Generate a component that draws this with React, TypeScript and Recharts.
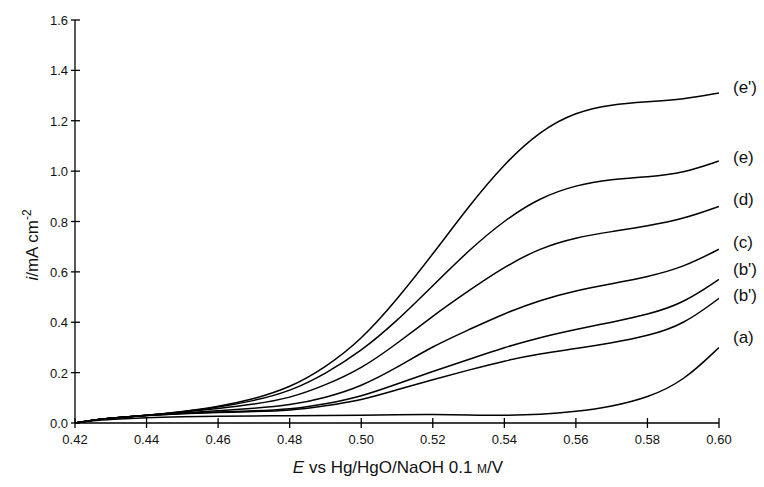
import React from "react";
import { LineChart, Line, XAxis, YAxis, LabelList } from "recharts";

const potential = [0.42, 0.425, 0.43, 0.44, 0.45, 0.46, 0.47, 0.48, 0.49, 0.5, 0.51, 0.52, 0.53, 0.54, 0.55, 0.56, 0.57, 0.58, 0.59, 0.6];

const curveEp = [0.0, 0.012, 0.02, 0.03, 0.045, 0.065, 0.095, 0.14, 0.22, 0.33, 0.49, 0.67, 0.86, 1.03, 1.16, 1.235, 1.265, 1.275, 1.285, 1.31];
const curveE = [0.0, 0.012, 0.02, 0.03, 0.044, 0.062, 0.088, 0.125, 0.195, 0.285, 0.405, 0.545, 0.685, 0.805, 0.895, 0.945, 0.968, 0.977, 0.992, 1.04];
const curveD = [0.0, 0.012, 0.02, 0.03, 0.043, 0.057, 0.074, 0.098, 0.15, 0.215, 0.315, 0.425, 0.525, 0.62, 0.695, 0.737, 0.76, 0.782, 0.81, 0.86];
const curveC = [0.0, 0.012, 0.02, 0.03, 0.04, 0.049, 0.058, 0.07, 0.1, 0.145, 0.22, 0.305, 0.37, 0.435, 0.488, 0.526, 0.553, 0.58, 0.618, 0.69];
const curveB1 = [0.0, 0.012, 0.02, 0.03, 0.038, 0.044, 0.048, 0.054, 0.075, 0.105, 0.155, 0.205, 0.252, 0.3, 0.34, 0.372, 0.4, 0.43, 0.475, 0.57];
const curveB2 = [0.0, 0.012, 0.02, 0.03, 0.037, 0.042, 0.045, 0.049, 0.068, 0.09, 0.132, 0.172, 0.21, 0.247, 0.275, 0.295, 0.318, 0.345, 0.39, 0.495];
const curveA = [0.0, 0.01, 0.015, 0.022, 0.025, 0.027, 0.028, 0.029, 0.03, 0.031, 0.033, 0.034, 0.032, 0.03, 0.033, 0.045, 0.065, 0.1, 0.165, 0.3];

const xTicks = [0.42, 0.44, 0.46, 0.48, 0.5, 0.52, 0.54, 0.56, 0.58, 0.6];
const yTicks = [0, 0.2, 0.4, 0.6, 0.8, 1.0, 1.2, 1.4, 1.6];

const seriesNames = ["(e')", "(e)", "(d)", "(c)", "(b')", "(b')", "(a)"];
const seriesKeys = ["ep", "e", "d", "c", "b1", "b2", "a"];
const seriesValues = [curveEp, curveE, curveD, curveC, curveB1, curveB2, curveA];
const labelShift = [-6, -4, -7, -7, -10, -3, -10];

const data = potential.map((x, i) => {
  const row: Record<string, number> = { x };
  seriesKeys.forEach((k, j) => {
    row[k] = seriesValues[j][i];
  });
  return row;
});

const FONT = "'Liberation Sans', Arial, sans-serif";

const XTick = (props: any) => {
  const { x, y, payload } = props;
  const axisY = y - 8;
  return (
    <g>
      <line x1={x} x2={x} y1={axisY - 5} y2={axisY + 5} stroke="#000" strokeWidth={1.3} />
      <text x={x} y={y + 13} textAnchor="middle" fontSize={13} fontFamily={FONT} fill="#111">
        {Number(payload.value).toFixed(2)}
      </text>
    </g>
  );
};

const YTick = (props: any) => {
  const { x, y, payload } = props;
  const axisX = x + 7;
  return (
    <g>
      <line x1={axisX - 4} x2={axisX + 5} y1={y} y2={y} stroke="#000" strokeWidth={1.3} />
      <text x={x} y={y + 5} textAnchor="end" fontSize={13} fontFamily={FONT} fill="#111">
        {Number(payload.value).toFixed(1)}
      </text>
    </g>
  );
};

const makeEndLabel = (name: string, dy: number) => (props: any) => {
  const { x, y, index } = props;
  if (index !== potential.length - 1) return null;
  return (
    <text x={x + 14} y={y + dy} dominantBaseline="central" fontSize={17} fontFamily={FONT} fill="#111">
      {name}
    </text>
  );
};

export default function App() {
  return (
    <div style={{ position: "absolute", left: 0, top: 0, width: 764, height: 487, background: "#fff" }}>
      <LineChart width={764} height={487} data={data} margin={{ top: 20, right: 45, bottom: 0, left: 0 }}>
        <XAxis
          dataKey="x"
          type="number"
          domain={[0.42, 0.6]}
          ticks={xTicks}
          tick={<XTick />}
          tickLine={false}
          tickSize={0}
          tickMargin={8}
          height={64}
          stroke="#000"
          strokeWidth={1.3}
          allowDataOverflow
        />
        <YAxis
          type="number"
          domain={[0, 1.6]}
          ticks={yTicks}
          tick={<YTick />}
          tickLine={false}
          tickSize={0}
          tickMargin={7}
          width={75}
          stroke="#000"
          strokeWidth={1.3}
        />
        {seriesKeys.map((k, j) => (
          <Line
            key={k}
            dataKey={k}
            type="basis"
            stroke="#000"
            strokeWidth={1.5}
            dot={false}
            isAnimationActive={false}
          >
            <LabelList dataKey={k} content={makeEndLabel(seriesNames[j], labelShift[j])} />
          </Line>
        ))}
        <text x={38} y={245} transform="rotate(-90 38 245)" textAnchor="middle" fontSize={17} fontFamily={FONT} fill="#111">
          <tspan fontStyle="italic">i</tspan>
          <tspan>/mA cm</tspan>
          <tspan dy={-7} fontSize={12}>-2</tspan>
        </text>
        <text x={398} y={473} textAnchor="middle" fontSize={17} fontFamily={FONT} fill="#111">
          <tspan fontStyle="italic">E</tspan>
          <tspan> vs Hg/HgO/NaOH 0.1 </tspan>
          <tspan fontSize={12}>M</tspan>
          <tspan>/V</tspan>
        </text>
      </LineChart>
    </div>
  );
}
